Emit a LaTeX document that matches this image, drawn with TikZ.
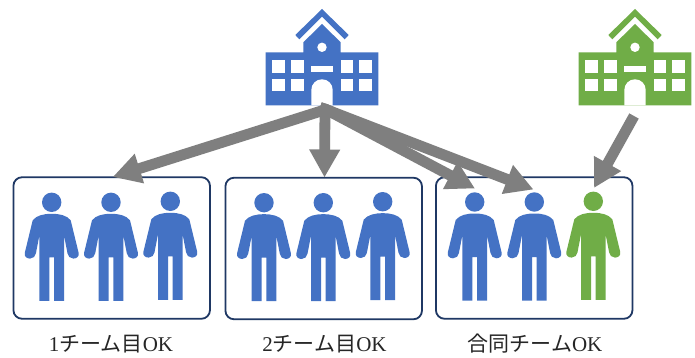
\documentclass[tikz,border=0pt]{standalone}
\usepackage{fontspec}
\setmainfont{Liberation Serif}
\newfontfamily\cjkf{Noto Sans CJK JP}
\usetikzlibrary{arrows.meta}
\definecolor{bluep}{HTML}{4472C4}
\definecolor{greenp}{HTML}{70AD47}
\definecolor{arrowgray}{HTML}{7F7F7F}
\definecolor{navy}{HTML}{1F3864}
\tikzset{
  teambox/.style={draw=navy,line width=1.8pt,rounded corners=8.5pt,minimum width=196.5pt,minimum height=141.5pt,inner sep=0pt,fill=white},
  teamlabel/.style={inner sep=0pt,font=\fontsize{21}{23}\selectfont,text=black!85},
  bigarrow/.style={draw=arrowgray,line width=10.8pt,-{Triangle[length=28pt,width=29pt]},line cap=butt,miter limit=10},
  pics/person/.style={code={
    \fill[#1] (0,0) circle[radius=9.7pt];
    \fill[#1] (0,11.5) .. controls (-8,11.5) and (-15,13) .. (-19,18) -- (-26.9,50.5)
      .. controls (-27.8,54) and (-25,56.3) .. (-21.7,56.3)
      .. controls (-18.5,56.3) and (-16.2,54) .. (-15.8,51)
      -- (-12.3,33) -- (-12.3,98.5) -- (-2.3,98.5) -- (-2.3,55) -- (2.3,55) -- (2.3,98.5) -- (12.3,98.5) -- (12.3,33)
      -- (15.8,51) .. controls (16.2,54) and (18.5,56.3) .. (21.7,56.3)
      .. controls (25,56.3) and (27.8,54) .. (26.9,50.5)
      -- (19,18) .. controls (15,13) and (8,11.5) .. (0,11.5) -- cycle;
  }},
  pics/school/.style={code={
    \fill[#1] (0,9) -- (26.7,35) -- (22.7,39.3) -- (0,16.7) -- (-22.7,39.3) -- (-26.7,35) -- cycle;
    \fill[#1] (0,24) -- (18.7,42.3) -- (18.7,52.3) -- (56.3,52.3) -- (56.3,105.3) -- (-56.3,105.3) -- (-56.3,52.3) -- (-18.7,52.3) -- (-18.7,42.3) -- cycle;
    \fill[white] (0,47.3) circle[radius=4.7pt];
    \foreach \xa in {-50,-31,18.7,37.4}{
      \foreach \ya in {60,78.7}{
        \fill[white] (\xa,\ya) rectangle ++(12.7,12.7);
      }
    }
    \fill[white] (-11,66) rectangle (11,72);
    \fill[white] (-10.7,105.3) -- (-10.7,90) .. controls (-10.7,84) and (-6,79.3) .. (0,79.3)
      .. controls (6,79.3) and (10.7,84) .. (10.7,90) -- (10.7,105.3) -- cycle;
  }}
}
\begin{document}
\begin{tikzpicture}[x=1pt,y=-1pt]
\useasboundingbox[fill=white] (0,0) rectangle (695,358);
% schools
\pic at (322,0) {school=bluep};
\pic at (635,0) {school=greenp};
% team boxes
\node[teambox] (boxA) at (111.7,248) {};
\node[teambox] (boxB) at (323.7,248.5) {};
\node[teambox] (boxC) at (534.2,248) {};
% people
\pic at (51.7,202.3) {person=bluep};
\pic at (111,202.3) {person=bluep};
\pic at (170.3,201.3) {person=bluep};
\pic at (264,202.7) {person=bluep};
\pic at (323.3,202.7) {person=bluep};
\pic at (382.7,201.7) {person=bluep};
\pic at (474.7,202) {person=bluep};
\pic at (534.3,202) {person=bluep};
\pic at (593.3,201.3) {person=greenp};
% labels
\node[teamlabel] (labA) at (111,344) {1{\cjkf チーム目}OK};
\node[teamlabel] (labB) at (324.5,344) {2{\cjkf チーム目}OK};
\node[teamlabel] (labC) at (535,344) {{\cjkf 合同チーム}OK};
% connector ends
\coordinate (hub) at (326,109.5);
\coordinate (hubL) at (320,107.5);
\coordinate (hubR) at (332,112);
\coordinate (hubT) at (325,108);
\coordinate (tipA) at (112.7,177);
\coordinate (tipB) at (324.5,177.5);
\coordinate (tipC) at (475,188.5);
\coordinate (tipD) at (533.5,189.5);
\coordinate (greenBase) at (634,116);
\coordinate (tipE) at (594,188);
% arrows
\draw[bigarrow] (hubT) -- (tipB);
\draw[bigarrow] (hubR) -- (hub) -- (tipA);
\draw[bigarrow] (hubL) -- (hub) -- (tipC);
\draw[bigarrow] (hubL) -- (hub) -- (tipD);
\draw[bigarrow] (greenBase) -- (tipE);
\end{tikzpicture}
\end{document}
